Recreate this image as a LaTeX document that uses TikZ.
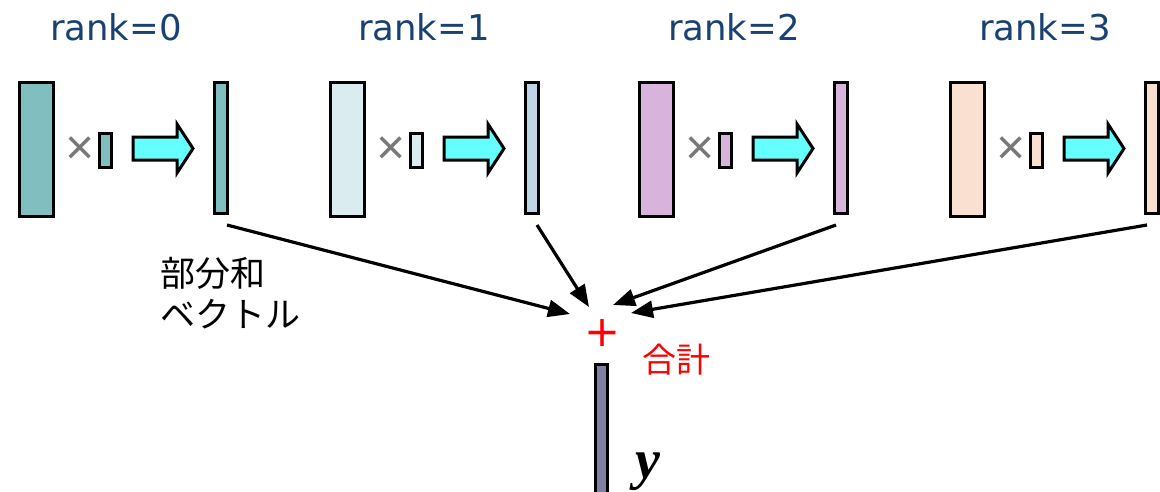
\documentclass[tikz,border=0pt]{standalone}
\usepackage{fontspec}
\usetikzlibrary{arrows.meta}
\newfontfamily\labfont{DejaVu Sans}
\newfontfamily\jpfont{Noto Sans CJK JP}
\newfontfamily\serfont{Liberation Serif}
\newfontfamily\xfont{Liberation Sans}
\definecolor{rankblue}{RGB}{25,65,115}
\definecolor{cteal}{RGB}{128,190,192}
\definecolor{clight}{RGB}{218,236,240}
\definecolor{clightb}{RGB}{192,212,232}
\definecolor{clilac}{RGB}{216,180,220}
\definecolor{cpeach}{RGB}{250,224,208}
\definecolor{ccyan}{RGB}{102,255,255}
\definecolor{cybar}{RGB}{128,128,162}
\definecolor{cgray}{RGB}{120,120,120}
\tikzset{
  box/.style={draw=black, line width=3pt, rectangle, inner sep=0pt},
  bigmat/.style={box, minimum width=34pt, minimum height=134pt},
  smallvec/.style={box, minimum width=12pt, minimum height=34pt},
  resvec/.style={box, minimum width=13pt, minimum height=131pt},
  ranklabel/.style={anchor=base, text=rankblue, font=\labfont\fontsize{35.5}{35.5}\selectfont, inner sep=0pt},
  timeslabel/.style={text=cgray, font=\xfont\fontsize{50}{50}\selectfont, inner sep=0pt},
  blockarrow/.style={draw=black, line width=3pt, fill=ccyan, line join=miter},
  sumarrow/.style={draw=black, line width=3.2pt, -{Triangle[length=22pt,width=17pt]}},
}
\begin{document}
\begin{tikzpicture}[x=1pt,y=-1pt]
\useasboundingbox (0,0) rectangle (1160,491);
\foreach \i/\dx/\lx/\ca/\cb in {0/0/116/cteal/cteal,1/311/424/clight/clightb,2/620/734/clilac/clilac,3/931/1045/cpeach/cpeach}{
  \node[ranklabel] (r\i) at (\lx,40) {rank=\i};
  \node[bigmat, fill=\ca] (m\i) at (36+\dx,149) {};
  \node[timeslabel] (x\i) at (80.5+\dx,151) {×};
  \node[smallvec, fill=\ca] (v\i) at (105+\dx,150) {};
  \draw[blockarrow] (133+\dx,137) -- (177+\dx,137) -- (177+\dx,124) -- (193+\dx,148.5)
     -- (177+\dx,173) -- (177+\dx,160) -- (133+\dx,160) -- cycle;
  \node[resvec, fill=\cb] (p\i) at (220.5+\dx,147.5) {};
}
\coordinate (s0) at (227,225);
\coordinate (s1) at (537,225);
\coordinate (s2) at (836,225);
\coordinate (s3) at (1147,225);
\coordinate (t0) at (570,314);
\coordinate (t1) at (589,307);
\coordinate (t2) at (613,305);
\coordinate (t3) at (631,313);
\foreach \i in {0,1,2,3}{
  \draw[sumarrow] (s\i) -- (t\i);
}
\node[text=red, font=\labfont\fontsize{43}{43}\selectfont, inner sep=0pt] (plus) at (603,333) {+};
\node[text=red, font=\jpfont\fontsize{34}{34}\selectfont, inner sep=0pt] (gokei) at (676,360) {合計};
\node[anchor=west, align=left, font=\jpfont\fontsize{35}{41}\selectfont, inner sep=0pt] (bubun) at (160,293) {部分和\\ベクトル};
\node[box, fill=cybar, minimum width=12pt, minimum height=140pt, anchor=north] (ybar) at (601,363) {};
\node[font=\serfont\bfseries\itshape\fontsize{56}{56}\selectfont, inner sep=0pt, anchor=base] (ylab) at (648,478) {y};
\end{tikzpicture}
\end{document}
